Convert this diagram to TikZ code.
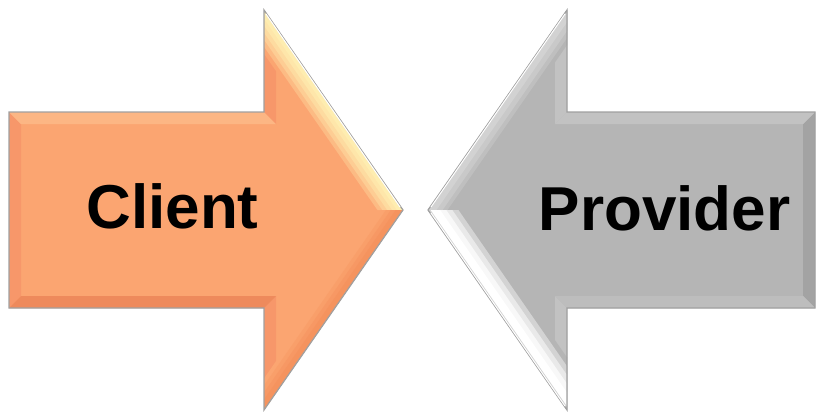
\documentclass[tikz,border=0pt]{standalone}
\usepackage{fontspec}
\setmainfont{Liberation Sans}
\definecolor{orbase}{HTML}{FBA571}
\definecolor{orleft}{HTML}{F7976A}
\definecolor{ortop}{HTML}{FCB684}
\definecolor{orbot}{HTML}{EE8A5C}
\definecolor{oryel}{HTML}{FEEDB0}
\definecolor{orslb}{HTML}{F5935E}
\definecolor{grbase}{HTML}{B5B5B5}
\definecolor{grright}{HTML}{A3A3A3}
\definecolor{grtop}{HTML}{C2C2C2}
\definecolor{grbot}{HTML}{BDBDBD}
\definecolor{grsl}{HTML}{D2D2D2}
\definecolor{edge}{HTML}{A0A0A0}
\tikzset{
  outline/.style={draw=edge, line width=1.2pt, line join=miter},
  label/.style={font=\fontsize{62}{62}\selectfont\bfseries, text=black, inner sep=0pt, anchor=base},
  band/.style={line cap=butt}
}
\begin{document}
\begin{tikzpicture}[x=1pt,y=-1pt]
\useasboundingbox (0,0) rectangle (817,412);
% ---------- orange arrow ----------
\fill[orbase] (9,112)--(264,112)--(264,10)--(403,210)--(264,410)--(264,308)--(9,308)--cycle;
\fill[orleft] (9,112)--(21,124)--(21,296)--(9,308)--cycle;
\fill[ortop] (9,112)--(264,112)--(276,124)--(21,124)--cycle;
\fill[orleft] (264,112)--(264,10)--(276,48.3)--(276,124)--cycle;
\fill[orleft] (264,410)--(264,308)--(276,296)--(276,371.7)--cycle;
\fill[orbot] (264,308)--(9,308)--(21,296)--(276,296)--cycle;
\begin{scope}
  \clip (264,10)--(403,210)--(264,210)--cycle;
  \foreach \w/\p in {50/0,42/30,34/55,26/75,18/90,10/100}
    \draw[band, line width=\w pt, draw=oryel!\p!orbase] (250.1,-10)--(416.9,230);
\end{scope}
\begin{scope}
  \clip (403,210)--(264,410)--(264,210)--cycle;
  \foreach \w/\p in {36/0,28/35,20/70,12/100}
    \draw[band, line width=\w pt, draw=orslb!\p!orbase] (416.9,190)--(250.1,430);
\end{scope}
\draw[outline] (9,112)--(264,112)--(264,10)--(403,210)--(264,410)--(264,308)--(9,308)--cycle;
\draw[white, line width=1pt] (266,14)--(400,207);
% ---------- gray arrow ----------
\fill[grbase] (815,112)--(567,112)--(567,10)--(428,210)--(567,410)--(567,308)--(815,308)--cycle;
\fill[grright] (815,112)--(803,124)--(803,296)--(815,308)--cycle;
\fill[grtop] (815,112)--(567,112)--(555,124)--(803,124)--cycle;
\fill[grtop] (567,112)--(567,10)--(555,48.3)--(555,124)--cycle;
\fill[grtop] (567,410)--(567,308)--(555,296)--(555,371.7)--cycle;
\fill[grbot] (567,308)--(815,308)--(803,296)--(555,296)--cycle;
\begin{scope}
  \clip (567,10)--(428,210)--(567,210)--cycle;
  \foreach \w/\p in {40/0,32/35,24/70,14/100}
    \draw[band, line width=\w pt, draw=grsl!\p!grbase] (580.9,-10)--(414.1,230);
\end{scope}
\begin{scope}
  \clip (428,210)--(567,410)--(567,210)--cycle;
  \foreach \w/\p in {60/0,50/40,40/70,30/90,20/100}
    \draw[band, line width=\w pt, draw=white!\p!grbase] (414.1,190)--(580.9,430);
  \draw[band, line width=4pt, draw=grsl] (414.1,190)--(580.9,430);
\end{scope}
\draw[outline] (815,112)--(567,112)--(567,10)--(428,210)--(567,410)--(567,308)--(815,308)--cycle;
\draw[white, line width=1pt] (565,14)--(431,207);
\draw[white, line width=1pt] (431,213)--(565,406);
% ---------- labels ----------
\node[label] (client) at (172.5,228) {Client};
\node[label] (provider) at (664.5,230) {Provider};
\end{tikzpicture}
\end{document}
